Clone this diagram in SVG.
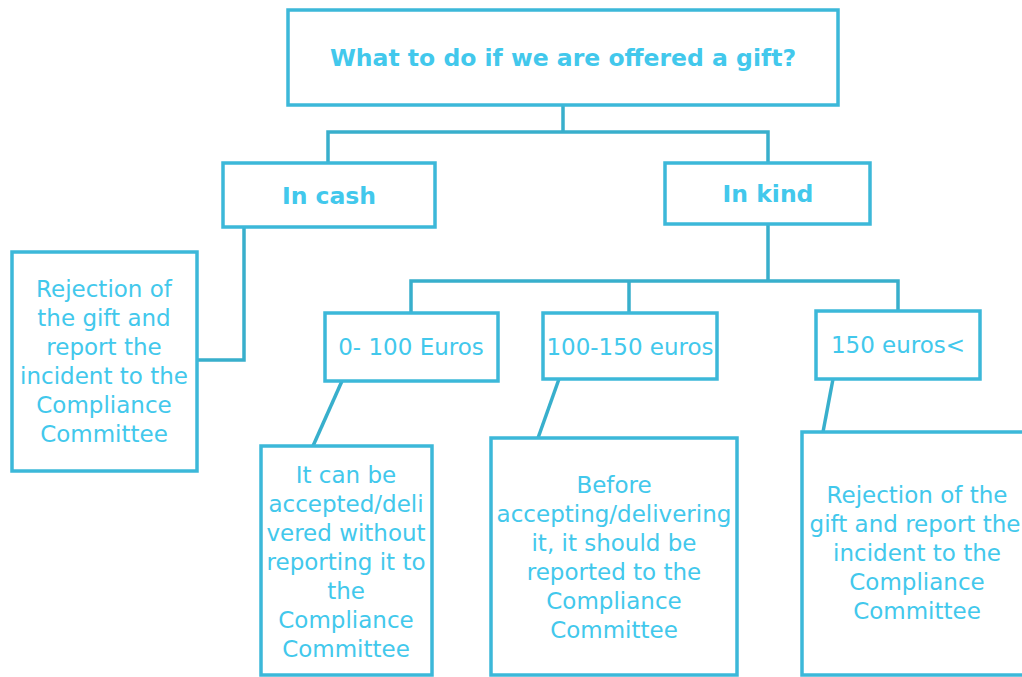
<svg xmlns="http://www.w3.org/2000/svg" width="1022" height="677" viewBox="0 0 1022 677">
  <style>
    .box { fill: #ffffff; stroke: #3cb8d9; stroke-width: 3.5; }
    .link { fill: none; stroke: #38afcc; stroke-width: 3.5; }
    .t { font-family: "DejaVu Sans", "Liberation Sans", sans-serif; font-size: 23px; fill: #42c8ec; text-anchor: middle; }
    .b { font-weight: bold; font-size: 23.5px; }
  </style>
  <rect width="1022" height="677" fill="#ffffff"/>

  <g id="connectors">
    <path class="link" d="M563 106 V132 H328 V163 M563 132 H768 V163"/>
    <path class="link" d="M244 228 V360 H197"/>
    <path class="link" d="M768 225 V281 H411 V313 M768 281 H898 V311 M629 281 V313"/>
    <path class="link" d="M342 381 L313 446"/>
    <path class="link" d="M559 379 L538 438"/>
    <path class="link" d="M833 379 L823 432"/>
  </g>

  <g id="root">
    <rect class="box" x="288" y="10" width="550" height="95"/>
    <text class="t b" x="563" y="66">What to do if we are offered a gift?</text>
  </g>

  <g id="in-cash">
    <rect class="box" x="223" y="163" width="212" height="64"/>
    <text class="t b" x="329" y="204">In cash</text>
  </g>

  <g id="in-kind">
    <rect class="box" x="665" y="163" width="205" height="61"/>
    <text class="t b" x="768" y="202">In kind</text>
  </g>

  <g id="cash-rejection">
    <rect class="box" x="12" y="252" width="185" height="219"/>
    <text class="t" x="104" y="297">Rejection of</text>
    <text class="t" x="104" y="326">the gift and</text>
    <text class="t" x="104" y="355">report the</text>
    <text class="t" x="104" y="384">incident to the</text>
    <text class="t" x="104" y="413">Compliance</text>
    <text class="t" x="104" y="442">Committee</text>
  </g>

  <g id="range-0-100">
    <rect class="box" x="325" y="313" width="173" height="68"/>
    <text class="t" x="411" y="355">0- 100 Euros</text>
  </g>

  <g id="range-100-150">
    <rect class="box" x="543" y="313" width="174" height="66"/>
    <text class="t" x="630" y="355">100-150 euros</text>
  </g>

  <g id="range-150-plus">
    <rect class="box" x="816" y="311" width="164" height="68"/>
    <text class="t" x="898" y="353">150 euros&lt;</text>
  </g>

  <g id="accept-no-report">
    <rect class="box" x="261" y="446" width="171" height="229"/>
    <text class="t" x="346" y="483">It can be</text>
    <text class="t" x="346" y="512">accepted/deli</text>
    <text class="t" x="346" y="541">vered without</text>
    <text class="t" x="346" y="570">reporting it to</text>
    <text class="t" x="346" y="599">the</text>
    <text class="t" x="346" y="628">Compliance</text>
    <text class="t" x="346" y="657">Committee</text>
  </g>

  <g id="report-first">
    <rect class="box" x="491" y="438" width="246" height="237"/>
    <text class="t" x="614" y="493">Before</text>
    <text class="t" x="614" y="522">accepting/delivering</text>
    <text class="t" x="614" y="551">it, it should be</text>
    <text class="t" x="614" y="580">reported to the</text>
    <text class="t" x="614" y="609">Compliance</text>
    <text class="t" x="614" y="638">Committee</text>
  </g>

  <g id="kind-rejection">
    <rect class="box" x="802" y="432" width="240" height="243"/>
    <text class="t" x="917" y="503">Rejection of the</text>
    <text class="t" x="915" y="532">gift and report the</text>
    <text class="t" x="917" y="561">incident to the</text>
    <text class="t" x="917" y="590">Compliance</text>
    <text class="t" x="917" y="619">Committee</text>
  </g>
</svg>
